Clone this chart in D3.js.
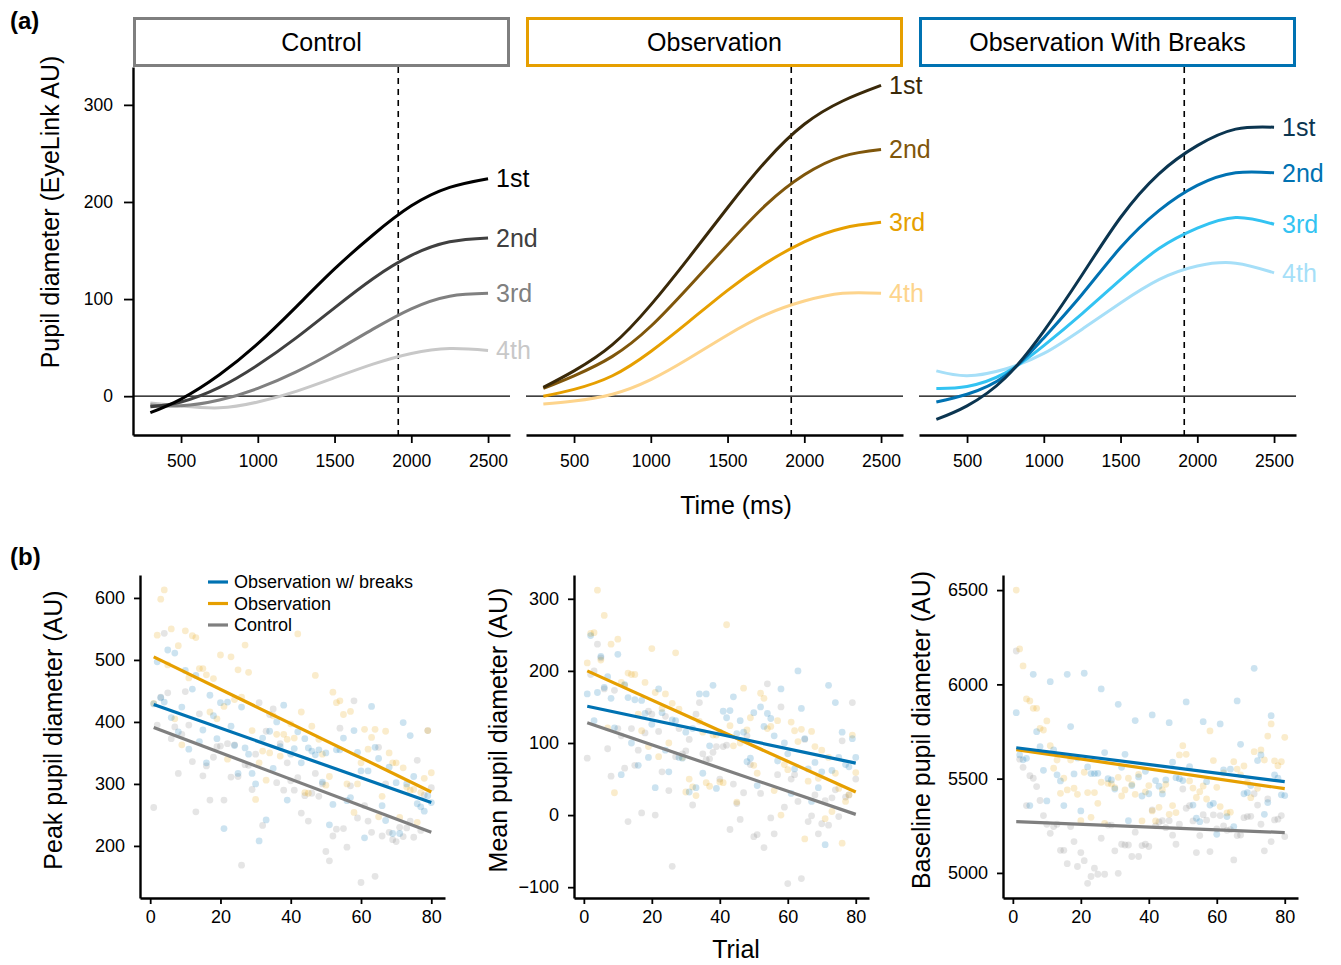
<!DOCTYPE html>
<html>
<head>
<meta charset="utf-8">
<script src="https://cdn.jsdelivr.net/npm/d3@7"></script>
<style>
  body { margin: 0; background: #fff; }
  svg text { font-family: "Liberation Sans", Arial, Helvetica, sans-serif; fill: #000; }
</style>
</head>
<body>
<svg id="chart" width="1341" height="965"></svg>
<script>
// ---------- panel (a) data : pupil time course per block ----------
const timePoints = [300, 500, 750, 1000, 1250, 1500, 1750, 2000, 2250, 2500];
const blockLabels = ["1st", "2nd", "3rd", "4th"];
const conditions = ["Control", "Observation", "Observation With Breaks"];
const timeTicks = [500, 1000, 1500, 2000, 2500];
const pupilTicks = [0, 100, 200, 300];
const windowEnd = 1915;

const controlCurves = [
  [-17, -3, 22, 54, 92, 131, 166, 196, 215, 224],
  [-11, -6, 9, 32, 60, 91, 121, 145, 159, 163],
  [-9, -10, -4, 8, 25, 46, 69, 90, 103, 106],
  [-7, -10, -12, -6, 5, 19, 33, 44, 49, 47]
];
const observationCurves = [
  [9, 26, 53, 94, 143, 194, 242, 280, 304, 320],
  [8, 21, 41, 72, 113, 156, 197, 228, 247, 254],
  [0, 7, 21, 46, 77, 109, 137, 159, 173, 179],
  [-8, -5, 2, 17, 39, 63, 84, 98, 106, 106]
];
const breaksCurves = [
  [-24, -10, 19, 67, 125, 184, 229, 258, 275, 277],
  [-6, 2, 21, 60, 105, 153, 191, 217, 230, 230],
  [8, 10, 24, 52, 85, 120, 152, 173, 184, 177],
  [26, 21, 28, 44, 69, 96, 120, 134, 137, 127]
];

const stripColors = ["#7f7f7f", "#E69F00", "#0072B2"];
const controlColors = ["#000000", "#404040", "#808080", "#c8c8c8"];
const observationColors = ["#3a2909", "#7f560b", "#E69F00", "#fdd48c"];
const breaksColors = ["#0b3550", "#0072B2", "#33c3f2", "#a6dff8"];

// ---------- panel (b) data : per trial values, 80 trials ----------
const trials = d3.range(1, 81);
const groups = ["Observation w/ breaks", "Observation", "Control"];
const groupColors = ["#0072B2", "#E69F00", "#7f7f7f"];

const peakBreaks = [429,497,439,432,516,407,511,384,424,483,356,453,475,368,387,334,443,410,373,431,
  228,432,393,362,317,424,358,348,317,300,208,374,242,385,325,400,360,427,274,348,
  357,384,334,373,358,353,347,355,303,350,234,267,355,355,374,273,278,386,351,321,
  213,321,425,359,341,265,241,327,220,302,220,399,300,378,312,268,263,256,281,270];
const peakObservation = [430,540,598,613,492,550,405,523,363,547,471,539,536,486,486,476,416,470,405,508,
  425,340,505,436,484,440,524,480,386,275,334,353,306,350,410,380,345,380,372,397,
  374,542,416,286,285,393,475,372,348,298,312,448,431,434,412,300,417,254,300,334,
  388,356,375,388,247,280,385,350,334,334,246,326,295,290,291,238,286,309,386,318];
const peakControl = [262,395,440,543,447,373,392,317,380,449,395,336,255,413,313,329,274,343,360,361,
  274,365,311,363,312,169,331,330,291,348,431,233,385,412,421,302,365,290,334,305,
  290,310,253,281,240,285,317,280,300,191,176,216,227,390,228,198,297,434,245,141,
  265,240,222,151,359,216,300,222,210,207,230,215,229,240,214,338,225,282,386,294];

const meanBreaks = [168,249,131,170,220,177,192,162,121,223,56,181,163,100,160,69,159,141,80,126,
  38,175,142,90,60,132,131,80,79,115,32,120,38,168,58,168,96,180,37,115,
  144,135,145,164,113,131,115,74,79,142,41,150,123,141,134,110,75,175,100,85,
  30,64,200,148,106,64,19,73,38,60,-41,180,62,156,80,115,70,67,106,80];
const meanObservation = [211,252,253,312,215,277,121,237,31,244,184,180,197,195,195,140,117,184,95,231,
  170,81,148,168,100,155,225,147,80,32,50,39,27,130,115,45,40,111,111,46,
  45,264,124,96,18,100,176,118,135,69,58,169,162,120,123,34,131,0,70,63,
  129,117,102,119,-33,47,116,95,51,90,-5,80,5,58,37,-39,19,28,111,59];
const meanControl = [79,195,200,237,218,175,92,54,173,120,110,65,-9,120,69,90,3,114,144,140,
  0,116,60,137,34,-71,81,120,85,89,105,14,140,156,85,77,78,87,95,50,
  95,97,-20,43,16,-6,31,110,70,-30,-27,30,-45,182,-4,-26,56,150,11,-95,
  50,56,19,-88,105,-9,-1,28,-26,-12,20,-14,24,35,-2,103,25,28,156,50];

const baseBreaks = [5850,5626,5600,5608,5357,6053,5749,5670,5544,5382,6014,5652,5520,5488,5357,6053,5776,5525,5610,5329,
  6059,5562,5527,5527,5528,5976,5638,5500,5493,5445,5894,5560,5629,5277,5463,5808,5509,5408,5539,5420,
  5838,5490,5460,5419,5493,5797,5587,5505,5500,5490,5907,5564,5360,5290,5272,5802,5484,5360,5369,5205,
  5790,5546,5299,5550,5246,5912,5682,5420,5426,5463,6085,5596,5626,5311,5373,5834,5520,5502,5414,5410];
const baseObservation = [6500,6188,6098,5923,5912,5873,5873,5767,5758,5806,5675,5555,5599,5422,5502,5440,5599,5449,5417,5277,
  5534,5426,5295,5426,5369,5481,5263,5475,5472,5452,5507,5408,5440,5502,5470,5417,5523,5276,5430,5463,
  5329,5276,5348,5440,5470,5311,5357,5320,5626,5675,5629,5488,5450,5400,5431,5461,5392,5753,5596,5454,
  5352,5530,5318,5322,5590,5551,5520,5567,5480,5399,5643,5449,5652,5599,5726,5790,5594,5569,5590,5719];
const baseControl = [6177,5603,5560,5357,5516,5502,5458,5384,5304,5258,5210,5246,5258,5120,5120,5049,5246,5166,5034,5108,
  5065,4945,4981,5025,4993,5184,4993,5254,5254,5117,4998,5152,5148,5148,5087,5216,5087,5145,5152,5140,
  5334,5250,5270,5277,5240,5277,5200,5152,5258,5445,5343,5357,5276,5108,5198,5309,5280,5113,5308,5233,
  5304,5250,5226,5230,5069,5198,5201,5293,5299,5300,5420,5360,5258,5117,5392,5166,5281,5285,5304,5193];

// fitted lines, value at trial 1 and trial 80 (breaks, observation, control)
const peakFits = [[428, 270], [505, 287], [391, 222]];
const meanFits = [[151, 72], [200, 32], [128, 1]];
const baseFits = [[5664, 5484], [5654, 5447], [5272, 5214]];
const fitTrials = [1, 80];

const peakTicks = [200, 300, 400, 500, 600];
const meanTicks = [-100, 0, 100, 200, 300];
const baseTicks = [5000, 5500, 6000, 6500];
const trialTicks = [0, 20, 40, 60, 80];

const fmt = d3.format("d");   // no thousands separator, true minus sign
const svg = d3.select("#chart");

// ================= panel (a) =================
const curveSets = [controlCurves, observationCurves, breaksCurves];
const colorSets = [controlColors, observationColors, breaksColors];
const facetLeft = [133, 526, 919];
const facetW = 377;
const aTop = 67, aBottom = 435;

const yA = d3.scaleLinear().domain([-40, 339]).range([aBottom, aTop]);

conditions.forEach((cond, i) => {
  const x = d3.scaleLinear().domain([187, 2643]).range([facetLeft[i], facetLeft[i] + facetW]);
  const g = svg.append("g");

  // strip on top
  g.append("rect")
    .attr("x", facetLeft[i] + 1.5).attr("y", 18.5)
    .attr("width", facetW - 3).attr("height", 47)
    .attr("fill", "#fff")
    .attr("stroke", stripColors[i])
    .attr("stroke-width", 3);
  g.append("text")
    .attr("x", facetLeft[i] + facetW / 2).attr("y", 42)
    .attr("dy", "0.35em")
    .attr("text-anchor", "middle")
    .style("font-size", "25px")
    .text(cond);

  // zero line and analysis window
  g.append("line")
    .attr("x1", facetLeft[i]).attr("x2", facetLeft[i] + facetW)
    .attr("y1", yA(0)).attr("y2", yA(0))
    .attr("stroke", "#000").attr("stroke-width", 1.2);
  g.append("line")
    .attr("x1", x(windowEnd)).attr("x2", x(windowEnd))
    .attr("y1", aTop).attr("y2", aBottom)
    .attr("stroke", "#000").attr("stroke-width", 1.6)
    .attr("stroke-dasharray", "6,5");

  const line = d3.line()
    .x(d => x(d[0]))
    .y(d => yA(d[1]))
    .curve(d3.curveNatural);

  // draw 4th first so 1st sits on top
  for (let k = 3; k >= 0; k--) {
    const vals = curveSets[i][k];
    const pts = timePoints.map((t, j) => [t, vals[j]]);
    g.append("path")
      .datum(pts)
      .attr("fill", "none")
      .attr("stroke", colorSets[i][k])
      .attr("stroke-width", 3)
      .attr("d", line);
    g.append("text")
      .attr("x", x(2500) + 8)
      .attr("y", yA(vals[vals.length - 1]))
      .attr("dy", "0.35em")
      .style("font-size", "25px")
      .style("fill", colorSets[i][k])
      .text(blockLabels[k]);
  }

  // x axis
  const xAxis = g.append("g")
    .attr("transform", `translate(0,${aBottom})`)
    .call(d3.axisBottom(x).tickValues(timeTicks).tickFormat(fmt).tickSize(8).tickPadding(12).tickSizeOuter(0));
  styleAxis(xAxis, "17.5px");

  if (i === 0) {
    const yAxis = g.append("g")
      .attr("transform", `translate(${facetLeft[i]},0)`)
      .call(d3.axisLeft(yA).tickValues(pupilTicks).tickFormat(fmt).tickSize(9).tickPadding(11).tickSizeOuter(0));
    styleAxis(yAxis, "17.5px");
  }
});

function styleAxis(ax, fs) {
  ax.attr("font-family", null).attr("font-size", null);
  ax.select(".domain").attr("stroke", "#000").attr("stroke-width", 2.4);
  ax.selectAll(".tick line").attr("stroke", "#000").attr("stroke-width", 1.8);
  ax.selectAll(".tick text").style("font-size", fs);
}

svg.append("text")
  .attr("transform", "translate(50,212) rotate(-90)")
  .attr("dy", "0.35em")
  .attr("text-anchor", "middle")
  .style("font-size", "25px")
  .text("Pupil diameter (EyeLink AU)");
svg.append("text")
  .attr("x", 736).attr("y", 505).attr("dy", "0.35em")
  .attr("text-anchor", "middle")
  .style("font-size", "25px")
  .text("Time (ms)");

svg.append("text").attr("x", 10).attr("y", 29)
  .style("font-size", "24px").style("font-weight", "bold").text("(a)");
svg.append("text").attr("x", 10).attr("y", 565)
  .style("font-size", "24px").style("font-weight", "bold").text("(b)");

// ================= panel (b) =================
const bTop = 575, bBottom = 898;
const scatterPanels = [
  { left: 140, right: 445, domain: [116, 637], ticks: peakTicks, series: [peakBreaks, peakObservation, peakControl],
    fits: peakFits, title: "Peak pupil diameter (AU)", titleX: 53 },
  { left: 574, right: 869, domain: [-115, 333], ticks: meanTicks, series: [meanBreaks, meanObservation, meanControl],
    fits: meanFits, title: "Mean pupil diameter (AU)", titleX: 498 },
  { left: 1003, right: 1298, domain: [4867, 6580], ticks: baseTicks, series: [baseBreaks, baseObservation, baseControl],
    fits: baseFits, title: "Baseline pupil diameter (AU)", titleX: 921 }
];

scatterPanels.forEach((p, pi) => {
  const x = d3.scaleLinear().domain([-2.9, 83.9]).range([p.left, p.right]);
  const y = d3.scaleLinear().domain(p.domain).range([bBottom, bTop]);
  const g = svg.append("g");

  // points: control underneath, breaks on top
  [2, 1, 0].forEach(s => {
    g.append("g").selectAll("circle")
      .data(p.series[s])
      .enter().append("circle")
      .attr("cx", (d, j) => x(trials[j]))
      .attr("cy", d => y(d))
      .attr("r", 3.4)
      .attr("fill", groupColors[s])
      .attr("fill-opacity", 0.2);
  });

  // fitted lines
  const fitLine = d3.line().x(d => x(d[0])).y(d => y(d[1]));
  [2, 1, 0].forEach(s => {
    g.append("path")
      .datum(fitTrials.map((t, j) => [t, p.fits[s][j]]))
      .attr("fill", "none")
      .attr("stroke", groupColors[s])
      .attr("stroke-width", 3.2)
      .attr("d", fitLine);
  });

  const xAxis = g.append("g")
    .attr("transform", `translate(0,${bBottom})`)
    .call(d3.axisBottom(x).tickValues(trialTicks).tickFormat(fmt).tickSize(6).tickPadding(6).tickSizeOuter(0));
  styleAxis(xAxis, "18px");
  const yAxis = g.append("g")
    .attr("transform", `translate(${p.left},0)`)
    .call(d3.axisLeft(y).tickValues(p.ticks).tickFormat(fmt).tickSize(6).tickPadding(9).tickSizeOuter(0));
  styleAxis(yAxis, "18px");

  svg.append("text")
    .attr("transform", `translate(${p.titleX},730) rotate(-90)`)
    .attr("dy", "0.35em")
    .attr("text-anchor", "middle")
    .style("font-size", "25px")
    .text(p.title);

  // legend only in the first plot
  if (pi === 0) {
    groups.forEach((name, s) => {
      const ly = 582 + s * 21.5;
      g.append("line")
        .attr("x1", 208).attr("x2", 228)
        .attr("y1", ly).attr("y2", ly)
        .attr("stroke", groupColors[s]).attr("stroke-width", 3.2);
      g.append("text")
        .attr("x", 234).attr("y", ly).attr("dy", "0.35em")
        .style("font-size", "18px")
        .text(name);
    });
  }
});

svg.append("text")
  .attr("x", 736).attr("y", 949).attr("dy", "0.35em")
  .attr("text-anchor", "middle")
  .style("font-size", "25px")
  .text("Trial");
</script>
</body>
</html>
